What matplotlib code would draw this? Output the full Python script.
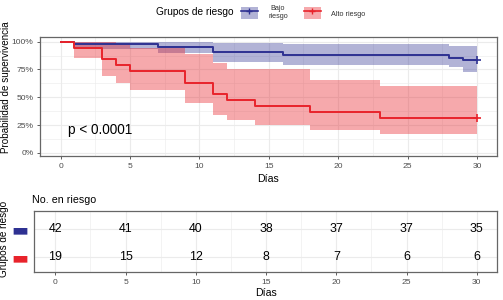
import numpy as np
import matplotlib.pyplot as plt
from matplotlib.patches import Patch
from matplotlib.lines import Line2D
from matplotlib.legend_handler import HandlerTuple
from matplotlib.ticker import FuncFormatter

plt.rcParams['font.family'] = ['Liberation Sans', 'DejaVu Sans']

# Kaplan-Meier curves, survival in %
t_bajo = [0, 1, 7, 11, 16, 28, 29, 30]
s_bajo = [100, 97.6, 95.2, 90.5, 88.1, 85.7, 83.3, 83.3]
lo_bajo = [100, 93.5, 89.6, 82.0, 79.0, 77.5, 72.5, 72.5]
hi_bajo = [100, 100, 100, 98.5, 97.6, 96.4, 96.4, 96.4]

t_alto = [0, 1, 3, 4, 5, 9, 11, 12, 14, 18, 23, 30]
s_alto = [100, 94.7, 84.2, 78.9, 73.7, 63.2, 52.6, 47.4, 42.1, 36.8, 31.6, 31.6]
lo_alto = [100, 85, 69, 62.5, 56.5, 44.5, 34, 29.5, 25, 21, 16.7, 16.7]
hi_alto = [100, 100, 100, 98, 94, 88.5, 80.5, 75.5, 75, 65.6, 60.2, 60.2]

# numbers at risk
dias_tabla = [0, 5, 10, 15, 20, 25, 30]
riesgo_bajo = [42, 41, 40, 38, 37, 37, 35]
riesgo_alto = [19, 15, 12, 8, 7, 6, 6]

azul = '#2E3192'
rojo = '#E8232B'
gris_grid = '#ebebeb'

fig = plt.figure(figsize=(5.03, 3.0), dpi=100)
ax = fig.add_axes([40/503, 1-156/300, 457/503, 119/300])
ax2 = fig.add_axes([34/503, 1-272/300, 463/503, 61/300])

# --- survival panel ---
ax.fill_between(t_bajo, lo_bajo, hi_bajo, step='post', color=azul, alpha=0.37, lw=0)
ax.fill_between(t_alto, lo_alto, hi_alto, step='post', color=rojo, alpha=0.39, lw=0)
ax.step(t_bajo, s_bajo, where='post', color=azul, lw=1.4)
ax.step(t_alto, s_alto, where='post', color=rojo, lw=1.4)
ax.plot(t_bajo[-1], s_bajo[-1], marker='+', ms=6, mew=1.2, color=azul)
ax.plot(t_alto[-1], s_alto[-1], marker='+', ms=6, mew=1.2, color=rojo)

ax.text(0.55, 20.6, 'p < 0.0001', fontsize=9.8, ha='left', va='center')

ax.set_xlim(-1.477, 31.44)
ax.set_ylim(-2.8, 104.2)
ax.set_xticks(range(0, 31, 5))
ax.set_xticks(np.arange(2.5, 31, 5), minor=True)
ax.set_yticks([0, 25, 50, 75, 100])
ax.set_yticks([12.5, 37.5, 62.5, 87.5], minor=True)
ax.yaxis.set_major_formatter(FuncFormatter(lambda v, p: f'{v:.0f}%'))
ax.set_xlabel('Días', fontsize=7.6, labelpad=3)
ax.set_ylabel('Probabilidad de supervivencia', fontsize=7.1)
ax.yaxis.set_label_coords(-0.0645, 0.576)

# --- risk table ---
for x, n in zip(dias_tabla, riesgo_bajo):
    ax2.text(x, 2, str(n), ha='center', va='center', fontsize=8.9)
for x, n in zip(dias_tabla, riesgo_alto):
    ax2.text(x, 1, str(n), ha='center', va='center', fontsize=8.9)

ax2.set_xlim(-1.516, 31.44)
ax2.set_ylim(0.45, 2.63)
ax2.set_xticks(range(0, 31, 5))
ax2.set_xticks(np.arange(2.5, 31, 5), minor=True)
ax2.set_yticks([2, 1])
ax2.set_xlabel('Días', fontsize=7.6, labelpad=2)
ax2.set_ylabel('Grupos de riesgo', fontsize=7.2)
ax2.yaxis.set_label_coords(-0.053, 0.541)
ax2.set_title('No. en riesgo', loc='left', fontsize=7.7, pad=6, x=-0.005)

for a in (ax, ax2):
    a.set_axisbelow(True)
    a.grid(which='major', color=gris_grid, lw=0.8)
    a.grid(which='minor', color=gris_grid, lw=0.4)
    for s in a.spines.values():
        s.set_color('#666666')
        s.set_linewidth(0.9)
    a.tick_params(which='major', length=2.5, width=0.6, color='#444444',
                  labelsize=6.1, labelcolor='#4d4d4d', pad=2.2)
    a.tick_params(which='minor', length=0)

# strata bars as y tick labels of the table
ax2.tick_params(axis='y', pad=4, length=0)
ax2.set_yticklabels(['▬', '▬'], family='DejaVu Sans', fontsize=13)
for lab, c in zip(ax2.get_yticklabels(), [azul, rojo]):
    lab.set_color(c)

# --- legend ---
fig.text(195/503, 1-12/300, 'Grupos de riesgo', fontsize=7.3, ha='center', va='center')
handles = [
    (Patch(facecolor=azul, alpha=0.37, lw=0), Line2D([], [], color=azul, lw=1.2, marker='+', ms=5)),
    (Patch(facecolor=rojo, alpha=0.39, lw=0), Line2D([], [], color=rojo, lw=1.2, marker='+', ms=5)),
]
leg = fig.legend(handles, ['Bajo\nriesgo', 'Alto riesgo'], ncol=2, frameon=False,
                 fontsize=5.2, loc='center left', bbox_to_anchor=(241/503, 1-13/300),
                 handler_map={tuple: HandlerTuple(ndivide=1, pad=0)},
                 handlelength=2.35, handleheight=2.1, handletextpad=1.4,
                 columnspacing=2.2, borderpad=0, borderaxespad=0)
for t in leg.get_texts():
    t.set_multialignment('center')
    t.set_color('#333333')

fig.savefig('out.png', dpi=100)
